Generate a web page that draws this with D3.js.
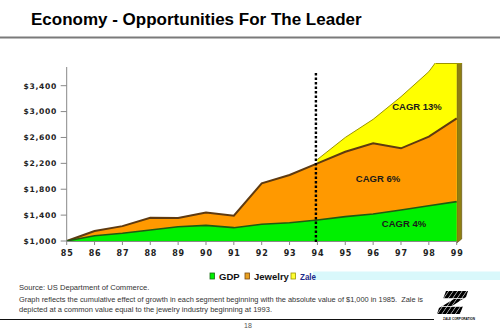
<!DOCTYPE html>
<html>
<head>
<meta charset="utf-8">
<script src="https://cdn.jsdelivr.net/npm/d3@7"></script>
<style>
  html, body { margin: 0; padding: 0; background: #fff; }
  svg { display: block; }
</style>
</head>
<body>
<div id="container"></div>
<script>
// Cumulative value of $1,000 invested in 1985, by segment
const years = [85, 86, 87, 88, 89, 90, 91, 92, 93, 94, 95, 96, 97, 98, 99];
const gdp = [1000, 1082, 1119, 1170, 1221, 1242, 1206, 1258, 1283, 1325, 1376, 1417, 1479, 1546, 1608];
const jewelry = [1000, 1155, 1230, 1360, 1355, 1440, 1391, 1892, 2020, 2200, 2380, 2510, 2432, 2612, 2896];
const zaleYears = [94, 95, 96, 97, 98, 99];
const zale = [2260, 2600, 2880, 3230, 3617, 4200];
const yTicks = [1000, 1400, 1800, 2200, 2600, 3000, 3400];
const cagrLabels = ["CAGR 13%", "CAGR 6%", "CAGR 4%"];
const splitYear = 94;

const width = 500, height = 333;
const svg = d3.select("#container").append("svg")
  .attr("width", width)
  .attr("height", height);

// title + rule
svg.append("text")
  .attr("x", 31).attr("y", 25)
  .style("font-family", "Liberation Sans, Arial, sans-serif")
  .style("font-weight", "bold")
  .style("font-size", "17px")
  .attr("fill", "#000")
  .text("Economy - Opportunities For The Leader");

svg.append("line")
  .attr("x1", 0).attr("x2", 500).attr("y1", 37.5).attr("y2", 37.5)
  .attr("stroke", "#7a7a7a").attr("stroke-width", 2);

const x = d3.scaleLinear().domain([85, 99]).range([66.7, 456.7]);
const y = d3.scaleLinear().domain([1000, 3400]).range([241, 85.7]);
const base = y(1000);

const plot = svg.append("g");

svg.append("defs").append("clipPath").attr("id", "plotClip")
  .append("rect").attr("x", 60).attr("y", 63).attr("width", 410).attr("height", 190);

const series = [
  { name: "Zale", xs: zaleYears, vs: zale, fill: "#ffff00", edge: "#9c9400", w: 1 },
  { name: "Jewelry", xs: years, vs: jewelry, fill: "#ff9900", edge: "#5e3a10", w: 2 },
  { name: "GDP", xs: years, vs: gdp, fill: "#00f000", edge: "#1f5a12", w: 1.6 }
];

const area = d3.area()
  .x(d => x(d[0]))
  .y0(base)
  .y1(d => y(d[1]));
const line = d3.line()
  .x(d => x(d[0]))
  .y(d => y(d[1]));

const marks = plot.append("g").attr("clip-path", "url(#plotClip)");

// right-hand depth face
const topZ = Math.max(y(zale[zale.length - 1]), 63);
marks.append("path")
  .attr("d", `M${x(99)},${topZ}L${x(99) + 5},${topZ}L${x(99) + 5},${base - 2}L${x(99)},${base + 2}Z`)
  .attr("fill", "#8f7f10")
  .attr("stroke", "#5a4a08")
  .attr("stroke-width", 0.6);

series.forEach(s => {
  const pts = s.xs.map((v, i) => [v, s.vs[i]]);
  marks.append("path").datum(pts)
    .attr("d", area)
    .attr("fill", s.fill);
  marks.append("path").datum(pts)
    .attr("d", line)
    .attr("fill", "none")
    .attr("stroke", s.edge)
    .attr("stroke-width", s.w);
});

// Zale top flattened at the chart ceiling
marks.append("line")
  .attr("x1", 436).attr("x2", x(99) + 5).attr("y1", 63.5).attr("y2", 63.5)
  .attr("stroke", "#9c9400").attr("stroke-width", 1);

// axes
const axisFont = "DejaVu Sans, Verdana, sans-serif";

plot.append("line")
  .attr("x1", x(85)).attr("x2", x(85)).attr("y1", 67).attr("y2", base)
  .attr("stroke", "#888").attr("stroke-width", 1);
plot.append("line")
  .attr("x1", x(85)).attr("x2", x(99)).attr("y1", base + 0.5).attr("y2", base + 0.5)
  .attr("stroke", "#888").attr("stroke-width", 1);

const yAxis = plot.append("g");
yTicks.forEach(t => {
  yAxis.append("line")
    .attr("x1", x(85) - 6).attr("x2", x(85)).attr("y1", y(t)).attr("y2", y(t))
    .attr("stroke", "#888");
  yAxis.append("text")
    .attr("x", 57).attr("y", y(t) + 2.8)
    .attr("text-anchor", "end")
    .style("font-family", axisFont).style("font-weight", "bold")
    .style("font-size", "7.6px").style("letter-spacing", "0.7px")
    .attr("fill", "#222")
    .text("$" + d3.format(",")(t));
});

const xAxis = plot.append("g");
years.forEach(t => {
  xAxis.append("line")
    .attr("x1", x(t)).attr("x2", x(t)).attr("y1", base).attr("y2", base + 4)
    .attr("stroke", "#888");
  xAxis.append("text")
    .attr("x", x(t) + 0.5).attr("y", 256)
    .attr("text-anchor", "middle")
    .style("font-family", axisFont).style("font-weight", "bold")
    .style("font-size", "8px").style("letter-spacing", "0.8px")
    .attr("fill", "#222")
    .text(t);
});

// dotted divider at 1994
plot.append("line")
  .attr("x1", x(splitYear) - 1.5).attr("x2", x(splitYear) - 1.5)
  .attr("y1", 73).attr("y2", base + 3)
  .attr("stroke", "#000").attr("stroke-width", 2.4)
  .attr("stroke-dasharray", "2.5,2");

// growth labels
const labelPos = [[417, 110], [378, 182], [404, 227]];
cagrLabels.forEach((t, i) => {
  plot.append("text")
    .attr("x", labelPos[i][0]).attr("y", labelPos[i][1])
    .attr("text-anchor", "middle")
    .style("font-family", "Liberation Sans, Arial, sans-serif")
    .style("font-weight", "bold").style("font-size", "9.5px")
    .attr("fill", "#1a1a1a")
    .text(t);
});

// legend
svg.append("rect")
  .attr("x", 313).attr("y", 271.5).attr("width", 187).attr("height", 8.5)
  .attr("fill", "#d9f8fb");

const legendItems = [
  { label: "GDP", fill: "#00f000", edge: "#1b6a12", x: 210 },
  { label: "Jewelry", fill: "#e8a020", edge: "#7a4a10", x: 245 },
  { label: "Zale", fill: "#ffff30", edge: "#9c9400", x: 291 }
];
legendItems.forEach(d => {
  svg.append("rect")
    .attr("x", d.x).attr("y", 273).attr("width", 4.5).attr("height", 6)
    .attr("fill", d.fill).attr("stroke", d.edge).attr("stroke-width", 0.8);
  const t = svg.append("text")
    .attr("x", d.x + 9).attr("y", 280)
    .style("font-family", "Liberation Sans, Arial, sans-serif")
    .style("font-weight", "bold").style("font-size", "9.5px")
    .attr("fill", d.label === "Zale" ? "#1c2a8a" : "#111")
    .text(d.label);
  if (d.label === "Zale") t.attr("textLength", 16).attr("lengthAdjust", "spacingAndGlyphs");
});

// footnotes
const noteFont = "Liberation Sans, Arial, sans-serif";
const notes = [
  ["Source: US Department of Commerce.", 289.5, null],
  ["Graph reflects the cumulative effect of growth in each segment beginning with the absolute value of $1,000 in 1985.  Zale is", 302, 404],
  ["depicted at a common value equal to the jewelry industry beginning at 1993.", 311.5, 253]
];
notes.forEach(n => {
  const t = svg.append("text")
    .attr("x", 19).attr("y", n[1])
    .style("font-family", noteFont).style("font-size", "7.6px")
    .attr("fill", "#333")
    .attr("xml:space", "preserve")
    .text(n[0]);
  if (n[2]) t.attr("textLength", n[2]).attr("lengthAdjust", "spacingAndGlyphs");
});

svg.append("line")
  .attr("x1", 0).attr("x2", 434).attr("y1", 319.5).attr("y2", 319.5)
  .attr("stroke", "#111").attr("stroke-width", 1);

svg.append("text")
  .attr("x", 248).attr("y", 328)
  .attr("text-anchor", "middle")
  .style("font-family", noteFont).style("font-size", "7px")
  .attr("fill", "#555")
  .text("18");

// company mark: striped Z
const logo = svg.append("g");
logo.append("clipPath").attr("id", "zClip")
  .append("path")
  .attr("d", "M446,291L468,291L466,297L452,306L463,306L460,314L437,314L439,308L454,299L443,299Z");
const stripes = logo.append("g").attr("clip-path", "url(#zClip)");
[0, 1, 2, 3, 4, 5, 6, 7, 8, 9, 10, 11, 12].forEach(i => {
  const x0 = 424 + i * 4.5;
  stripes.append("line")
    .attr("x1", x0).attr("y1", 317).attr("x2", x0 + 20).attr("y2", 288)
    .attr("stroke", "#000").attr("stroke-width", 3.2);
});
[298.5, 306.5].forEach(yy => {
  stripes.append("line")
    .attr("x1", 428).attr("x2", 475).attr("y1", yy).attr("y2", yy)
    .attr("stroke", "#fff").attr("stroke-width", 0.8);
});
svg.append("text")
  .attr("x", 459).attr("y", 319.5)
  .attr("text-anchor", "middle")
  .style("font-family", noteFont).style("font-weight", "bold").style("font-size", "4px")
  .attr("textLength", 32).attr("lengthAdjust", "spacingAndGlyphs")
  .attr("fill", "#000")
  .text("ZALE CORPORATION");
</script>
</body>
</html>
